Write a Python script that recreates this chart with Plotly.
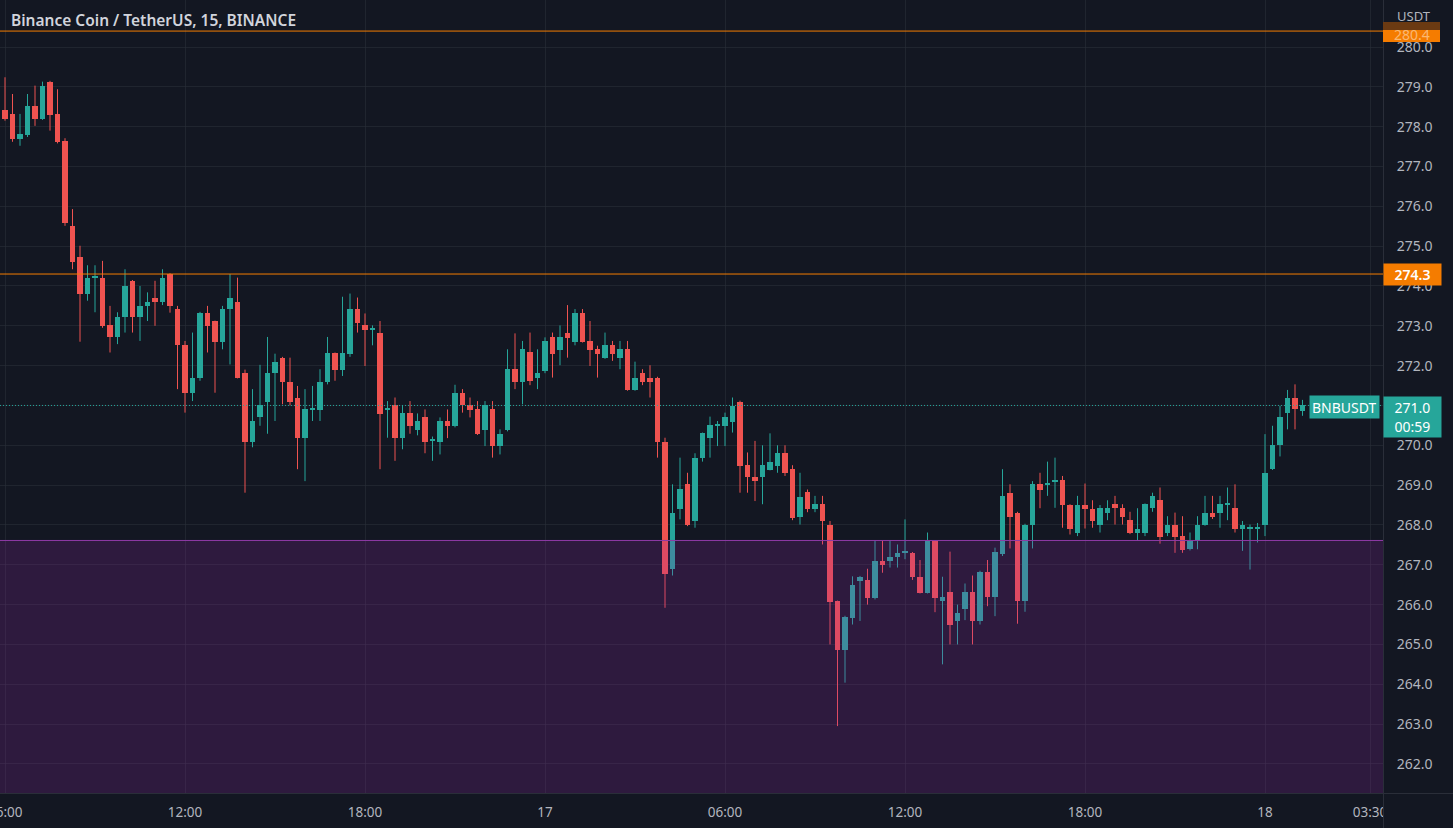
import pandas as pd
import plotly.graph_objects as go

# ---------------- data (BNB/USDT, 15 min candles) ----------------
start_time = "2022-10-16 05:45"

opens = [
    # 16th 05:45 .. 23:45
    278.74, 278.42, 278.32, 277.69, 277.79, 278.53, 278.19, 279.13, 278.32,
    277.65, 275.51, 274.72, 273.79, 274.21, 274.21, 273.01, 272.71, 273.21,
    274.13, 273.21, 273.50, 273.71, 273.60, 274.30, 273.42, 272.51, 271.32,
    271.70, 273.32, 273.11, 272.60, 273.42, 273.61, 271.81, 270.08, 270.70,
    271.09, 271.81, 272.20, 271.60, 271.20, 270.18, 270.90, 270.88, 271.60,
    272.31, 271.88, 272.29, 273.42, 273.01, 272.91, 272.81, 270.90, 271.01,
    270.18, 270.80, 270.38, 270.70, 270.11, 270.09, 270.60, 270.49, 271.31,
    271.01, 270.90, 270.38, 270.90, 269.98, 270.38, 271.91, 271.60, 272.33,
    271.68,
    # 17th 00:00 .. 23:45
    271.87, 272.71, 272.39, 272.81, 272.60, 273.32, 272.62, 272.41, 272.19,
    272.51, 272.19, 272.41, 271.39, 271.81, 271.70, 271.70, 270.08, 266.90,
    268.39, 269.02, 268.10, 269.67, 270.19, 270.50, 270.49, 270.59, 271.09,
    269.50, 269.20, 269.20, 269.38, 269.48, 269.80, 269.40, 268.21, 268.83,
    268.39, 268.52, 268.01, 266.09, 264.87, 265.67, 266.59, 266.62, 266.17,
    267.09, 267.09, 267.20, 267.30, 267.30, 266.70, 266.30, 267.60, 266.09,
    266.32, 265.59, 265.90, 266.32, 265.59, 266.82, 266.20, 267.28, 268.81,
    268.31, 266.09, 268.00, 269.02, 269.02, 269.10, 269.12, 268.50, 267.79,
    268.50, 268.41, 268.00, 268.31, 268.52, 268.42, 268.12, 267.79, 267.79,
    268.42, 268.62, 267.79, 268.01, 267.72, 267.39, 267.60, 268.00, 268.31,
    268.31, 268.52, 268.42, 267.89, 267.91, 267.91,
    # 18th 00:00 .. 01:15
    267.99, 269.40, 270.00, 270.80, 271.20, 270.85,
]

highs = [
    278.90, 279.24, 278.82, 278.32, 278.82, 279.03, 279.13, 279.15, 278.94,
    277.71, 275.93, 275.01, 274.52, 274.52, 274.63, 273.50, 273.34, 274.42,
    274.15, 274.00, 273.84, 274.13, 274.42, 274.32, 273.50, 272.62, 272.83,
    273.35, 273.50, 273.13, 273.50, 274.30, 274.21, 271.90, 271.41, 272.02,
    272.72, 272.30, 272.22, 272.20, 271.49, 271.41, 271.49, 271.91, 272.72,
    272.33, 273.73, 273.81, 273.71, 273.31, 273.01, 273.12, 271.11, 271.20,
    271.01, 271.11, 270.80, 270.90, 270.22, 270.70, 270.90, 271.52, 271.41,
    271.20, 271.11, 271.11, 271.11, 270.40, 272.41, 272.81, 272.62, 272.83,
    272.41,
    272.71, 272.83, 273.01, 273.52, 273.42, 273.42, 273.12, 272.50, 272.83,
    272.62, 272.62, 272.62, 272.10, 271.91, 272.01, 271.72, 270.19, 269.02,
    269.69, 269.31, 269.80, 270.32, 270.72, 270.61, 270.82, 271.20, 271.12,
    269.82, 270.11, 270.00, 270.30, 270.00, 270.00, 269.50, 269.31, 268.89,
    268.73, 268.73, 268.10, 266.10, 265.72, 266.71, 266.72, 266.90, 267.60,
    267.60, 267.60, 267.51, 268.14, 267.32, 267.12, 267.81, 267.62, 266.70,
    267.33, 266.00, 266.53, 266.73, 266.85, 267.12, 267.43, 269.40, 269.02,
    268.33, 268.03, 269.10, 269.31, 269.59, 269.69, 269.23, 268.52, 268.73,
    269.04, 268.62, 268.50, 268.62, 268.73, 268.52, 268.33, 268.42, 268.54,
    268.81, 268.94, 268.22, 268.31, 268.22, 267.81, 268.22, 268.73, 268.73,
    268.73, 268.94, 269.02, 268.10, 268.01, 268.05,
    270.28, 270.49, 270.99, 271.39, 271.53, 271.14,
]

lows = [
    278.30, 278.15, 277.62, 277.52, 277.74, 278.02, 278.17, 277.90, 277.58,
    275.51, 274.42, 272.60, 273.63, 273.34, 272.95, 272.33, 272.54, 272.83,
    272.83, 272.62, 273.12, 273.00, 273.52, 273.33, 271.41, 270.82, 271.11,
    271.62, 272.33, 271.32, 272.41, 272.03, 271.68, 268.81, 269.95, 270.49,
    270.29, 270.61, 271.03, 271.00, 269.40, 269.10, 270.61, 270.61, 271.53,
    271.62, 271.74, 272.22, 272.83, 271.99, 272.51, 269.40, 270.19, 269.61,
    269.90, 270.29, 270.25, 269.80, 269.61, 269.77, 270.18, 270.45, 270.82,
    270.70, 270.26, 269.98, 269.69, 269.77, 270.35, 271.41, 271.03, 271.51,
    271.41,
    271.81, 271.70, 272.01, 272.20, 272.51, 272.58, 271.99, 271.70, 272.17,
    272.12, 271.91, 271.37, 271.37, 271.51, 271.20, 269.69, 265.92, 266.73,
    268.14, 267.97, 267.93, 269.59, 269.69, 269.98, 269.98, 270.32, 268.81,
    268.81, 268.60, 268.52, 269.37, 269.31, 269.23, 268.12, 268.01, 268.32,
    268.32, 267.51, 265.00, 262.95, 264.04, 265.50, 265.59, 266.00, 266.13,
    266.80, 266.93, 266.93, 267.14, 266.62, 266.28, 266.28, 265.81, 264.50,
    265.00, 265.00, 265.61, 265.00, 265.50, 265.96, 265.71, 267.22, 267.41,
    265.52, 265.82, 267.41, 268.42, 268.73, 268.43, 267.93, 267.76, 267.72,
    267.91, 267.93, 267.81, 268.12, 268.01, 268.01, 267.77, 267.61, 267.72,
    268.33, 267.53, 267.72, 267.30, 267.30, 267.36, 267.39, 267.98, 268.15,
    267.93, 268.12, 267.81, 267.35, 266.88, 267.56,
    267.72, 269.38, 269.72, 270.40, 270.40, 270.74,
]

closes = [
    278.44, 278.19, 277.69, 277.81, 278.53, 278.19, 279.03, 278.29, 277.61,
    275.58, 274.61, 273.79, 274.21, 274.22, 273.00, 272.71, 273.21, 274.00,
    273.21, 273.50, 273.61, 273.60, 274.21, 273.50, 272.51, 271.32, 271.70,
    273.32, 273.00, 272.60, 273.42, 273.71, 271.70, 270.08, 270.61, 271.01,
    271.81, 272.10, 271.60, 271.09, 270.18, 270.90, 270.92, 271.60, 272.31,
    271.88, 272.31, 273.42, 273.08, 272.90, 272.92, 270.78, 270.91, 270.18,
    270.80, 270.49, 270.60, 270.09, 270.12, 270.60, 270.49, 271.31, 271.01,
    270.88, 270.28, 271.01, 269.97, 270.29, 271.91, 271.60, 272.41, 271.62,
    271.81,
    272.62, 272.29, 272.71, 272.69, 273.32, 272.60, 272.39, 272.29, 272.51,
    272.29, 272.41, 271.39, 271.70, 271.59, 271.59, 270.08, 266.78, 268.31,
    268.91, 267.99, 269.69, 270.30, 270.50, 270.51, 270.70, 270.99, 269.48,
    269.20, 269.10, 269.50, 269.59, 269.80, 269.30, 268.18, 268.71, 268.39,
    268.52, 268.10, 266.06, 264.87, 265.69, 266.50, 266.70, 266.17, 267.09,
    266.99, 267.20, 267.30, 267.31, 266.70, 266.30, 267.60, 266.17, 266.20,
    265.48, 265.80, 266.32, 265.59, 266.82, 266.20, 267.32, 268.73, 268.20,
    266.09, 268.01, 269.02, 268.89, 269.03, 269.12, 268.50, 267.89, 268.50,
    268.41, 268.10, 268.42, 268.42, 268.42, 268.20, 267.79, 267.91, 268.52,
    268.73, 267.70, 268.01, 267.70, 267.36, 267.60, 268.01, 268.31, 268.20,
    268.52, 268.53, 267.89, 268.01, 267.92, 267.92,
    269.31, 270.00, 270.70, 271.20, 270.90, 271.00,
]

x_tick_values = ["2022-10-16 06:00", "2022-10-16 12:00", "2022-10-16 18:00",
                 "2022-10-17 00:00", "2022-10-17 06:00", "2022-10-17 12:00",
                 "2022-10-17 18:00", "2022-10-18 00:00", "2022-10-18 03:30"]
x_tick_text = ["06:00", "12:00", "18:00", "17", "06:00", "12:00", "18:00", "18", "03:30"]

price_ticks = [262, 263, 264, 265, 266, 267, 268, 269, 270, 271, 272, 273, 274,
               275, 276, 277, 278, 279, 280]

resistance_levels = [280.4, 274.3]
support_zone_top = 267.61
last_price = 271.0
countdown = "00:59"
symbol = "BNBUSDT"
title_text = "Binance Coin / TetherUS, 15, BINANCE"

# ---------------- styling ----------------
BG = "#131722"
GRID = "rgba(42,46,57,0.6)"
AXLINE = "#2a2e39"
GREEN = "#26a69a"
RED = "#ef5350"
ORANGE = "#f57c00"
TXT = "#b2b5be"
FONT = "Noto Sans"
BODY_MS = 11 * 60 * 1000  # candle body width (11 minutes of a 15 minute slot)
Y_RANGE = [261.27, 281.18]
PLOT_H = 793  # plot height in px
AX_W = 57 / 1383  # width of axis label boxes in paper units

assert len(opens) == len(highs) == len(lows) == len(closes)
times = list(pd.date_range(start_time, periods=len(opens), freq="15min"))
n = len(times)


def price_to_paper(p):
    return (p - Y_RANGE[0]) / (Y_RANGE[1] - Y_RANGE[0])


fig = go.Figure()
for is_up, color in [(True, GREEN), (False, RED)]:
    idx = [i for i in range(n) if (closes[i] >= opens[i]) == is_up]
    wx, wy = [], []
    for i in idx:
        wx += [times[i], times[i], None]
        wy += [lows[i], highs[i], None]
    fig.add_trace(go.Scatter(x=wx, y=wy, mode="lines", line=dict(color=color, width=1),
                             hoverinfo="skip", showlegend=False))
    fig.add_trace(go.Bar(
        x=[times[i] for i in idx],
        base=[min(opens[i], closes[i]) for i in idx],
        y=[max(abs(closes[i] - opens[i]), 0.03) for i in idx],
        width=BODY_MS,
        marker=dict(color=color, line=dict(width=0)),
        showlegend=False, hoverinfo="skip",
    ))

# support zone (purple)
fig.add_shape(type="rect", xref="paper", x0=0, x1=1, yref="y", y0=255, y1=support_zone_top,
              fillcolor="rgba(156,39,176,0.2)", line=dict(width=0), layer="above")
fig.add_shape(type="line", xref="paper", x0=0, x1=1, yref="y", y0=support_zone_top,
              y1=support_zone_top, line=dict(color="#8e3aa6", width=1), layer="above")

# resistance lines (orange)
for lvl in resistance_levels:
    fig.add_shape(type="line", xref="paper", x0=0, x1=1, yref="y", y0=lvl, y1=lvl,
                  line=dict(color=ORANGE, width=1), layer="above")

# last price dotted line
fig.add_shape(type="line", xref="paper", x0=0, x1=1, yref="y", y0=last_price, y1=last_price,
              line=dict(color=GREEN, width=1, dash="1px,2px"), layer="above")

# top orange axis label (partly faded under the axis header)
top_p = price_to_paper(resistance_levels[0])
fig.add_shape(type="rect", xref="paper", yref="paper", x0=1, x1=1 + AX_W,
              y0=top_p - 11 / PLOT_H, y1=top_p + 4 / PLOT_H,
              fillcolor=ORANGE, line=dict(width=0), layer="above")
fig.add_shape(type="rect", xref="paper", yref="paper", x0=1, x1=1 + AX_W,
              y0=top_p + 1 / PLOT_H, y1=top_p + 9 / PLOT_H,
              fillcolor="#6b3a12", line=dict(width=0), layer="above")
fig.add_annotation(xref="paper", yref="paper", x=1 + AX_W / 2, y=top_p, xanchor="center",
                   yanchor="middle", yshift=-3, text=f"{resistance_levels[0]:.1f}",
                   showarrow=False,
                   font=dict(family=FONT, size=14, color="rgba(255,236,214,0.55)"))

# ---------------- labels ----------------
fig.add_annotation(xref="paper", yref="paper", x=0, y=1, xanchor="left", yanchor="middle",
                   xshift=9, yshift=-20, text=title_text, showarrow=False,
                   font=dict(family=FONT, size=15.5, color="#d1d4dc", weight=600))
fig.add_annotation(xref="paper", yref="paper", x=1, y=1, xanchor="left", yanchor="middle",
                   xshift=12, yshift=-16, text="USDT", showarrow=False,
                   font=dict(family=FONT, size=13, color=TXT))
fig.add_annotation(xref="paper", yref="y", x=1, y=resistance_levels[1], xanchor="left",
                   yanchor="middle", text=f"{resistance_levels[1]:.1f}", showarrow=False,
                   bgcolor=ORANGE, width=53, height=17, borderpad=2,
                   font=dict(family=FONT, size=14, color="#ffffff", weight=600))
fig.add_annotation(xref="paper", yref="y", x=1, y=last_price, xanchor="left",
                   yanchor="top", yshift=9, text=f"{last_price:.1f}<br>{countdown}",
                   showarrow=False, bgcolor=GREEN, width=53, height=36, borderpad=2,
                   font=dict(family=FONT, size=14, color="#ffffff"))
fig.add_annotation(xref="paper", yref="y", x=1, y=last_price, xanchor="right",
                   yanchor="middle", xshift=-3, yshift=-2, text=symbol, showarrow=False,
                   bgcolor=GREEN, height=18, borderpad=2,
                   font=dict(family=FONT, size=14, color="#ffffff"))
# first time label, clipped by the left edge as in the original
fig.add_annotation(xref="x", yref="paper", x=x_tick_values[0], y=0, xanchor="center",
                   yanchor="top", yshift=-8, text=x_tick_text[0], showarrow=False,
                   font=dict(family=FONT, size=13.5, color=TXT))
# corner panel under the price scale (hides the tail of the last time label)
fig.add_annotation(xref="paper", yref="paper", x=1, y=0, xanchor="left", yanchor="top",
                   text=" ", showarrow=False, width=76, height=40, borderpad=0,
                   bgcolor=BG, bordercolor=AXLINE, borderwidth=1)

fig.update_layout(
    width=1453, height=828,
    margin=dict(l=0, r=70, t=0, b=35),
    paper_bgcolor=BG, plot_bgcolor=BG,
    showlegend=False, barmode="overlay", bargap=0,
    font=dict(family=FONT, color=TXT),
    xaxis=dict(
        type="date", range=["2022-10-16 05:50", "2022-10-18 03:56"],
        tickvals=x_tick_values, ticktext=x_tick_text,
        showgrid=True, gridcolor=GRID, gridwidth=1,
        showline=True, linecolor=AXLINE, linewidth=1,
        ticks="outside", ticklen=7, tickcolor="rgba(0,0,0,0)",
        tickfont=dict(family=FONT, size=13.5, color=TXT),
        zeroline=False, fixedrange=True,
    ),
    yaxis=dict(
        side="right", range=Y_RANGE,
        tickvals=price_ticks, ticktext=[f"{v:.1f}" for v in price_ticks],
        showgrid=True, gridcolor=GRID, gridwidth=1,
        showline=True, linecolor=AXLINE, linewidth=1,
        ticks="outside", ticklen=10, tickcolor="rgba(0,0,0,0)",
        tickfont=dict(family=FONT, size=14, color=TXT),
        zeroline=False, fixedrange=True,
    ),
)

fig.write_html("out.html", config={"displayModeBar": False})
